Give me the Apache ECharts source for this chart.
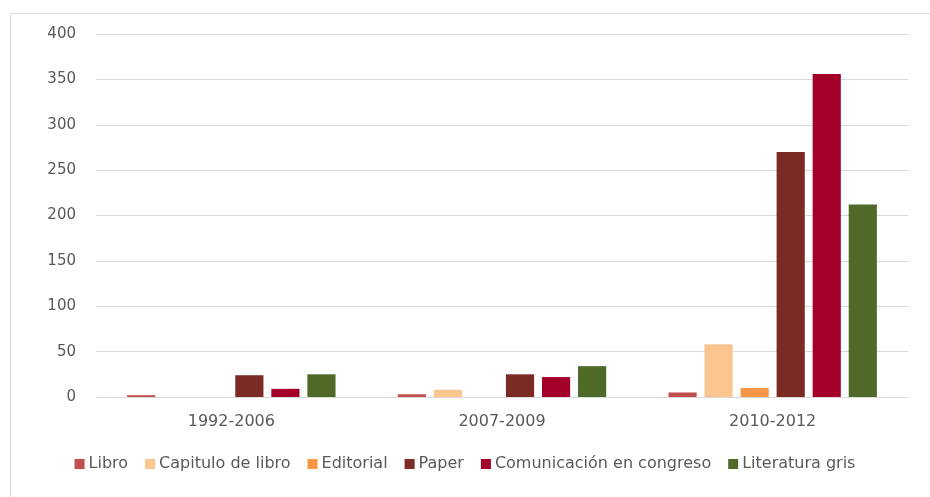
<!DOCTYPE html>
<html>
<head>
<meta charset="utf-8">
<script src="https://cdn.jsdelivr.net/npm/echarts@6/dist/echarts.min.js"></script>
<style>
html,body{margin:0;padding:0;background:#fff;}
#chart{width:930px;height:497px;}
</style>
</head>
<body>
<div id="chart"></div>
<script>
const categories = ['1992-2006', '2007-2009', '2010-2012'];
const seriesNames = ['Libro', 'Capitulo de libro', 'Editorial', 'Paper', 'Comunicación en congreso', 'Literatura gris'];
const libro = [2, 3, 5];
const capitulo = [0, 8, 58];
const editorial = [0, 0, 10];
const paper = [24, 25, 270];
const comunicacion = [9, 22, 356];
const literatura = [25, 34, 212];
const yTicks = [0, 50, 100, 150, 200, 250, 300, 350, 400];
const colors = ['#c0504d', '#fac58f', '#f79646', '#7b2a24', '#a3002a', '#4f6a28'];

const dataSets = [libro, capitulo, editorial, paper, comunicacion, literatura];
const chart = echarts.init(document.getElementById('chart'));
const font = 'DejaVu Sans';
chart.setOption({
  animation: false,
  backgroundColor: '#fff',
  color: colors,
  graphic: [{
    type: 'rect', shape: {x: 10.5, y: 13.5, width: 940, height: 500},
    style: {fill: 'none', stroke: '#dcdcdc', lineWidth: 1}, silent: true, z: -1
  }],
  grid: {left: 96, right: 22, top: 34, bottom: 100, containLabel: false},
  legend: {
    bottom: 20, left: 'center',
    itemWidth: 10, itemHeight: 10, itemGap: 17,
    icon: 'rect',
    textStyle: {color: '#595959', fontSize: 16, fontFamily: font, padding: [0, 0, 0, -1]},
    data: seriesNames
  },
  xAxis: {
    type: 'category', data: categories,
    axisLine: {lineStyle: {color: '#d9d9d9'}},
    axisTick: {show: false},
    axisLabel: {color: '#595959', fontSize: 16, fontFamily: font, margin: 17}
  },
  yAxis: {
    type: 'value', min: yTicks[0], max: yTicks[yTicks.length - 1], interval: 50,
    axisLine: {show: false}, axisTick: {show: false},
    splitLine: {lineStyle: {color: '#d9d9d9'}},
    axisLabel: {color: '#595959', fontSize: 15, fontFamily: font, margin: 20}
  },
  series: seriesNames.map((n, i) => ({
    name: n, type: 'bar', data: dataSets[i],
    barGap: '28%', barCategoryGap: '23%'
  }))
});
</script>
</body>
</html>
